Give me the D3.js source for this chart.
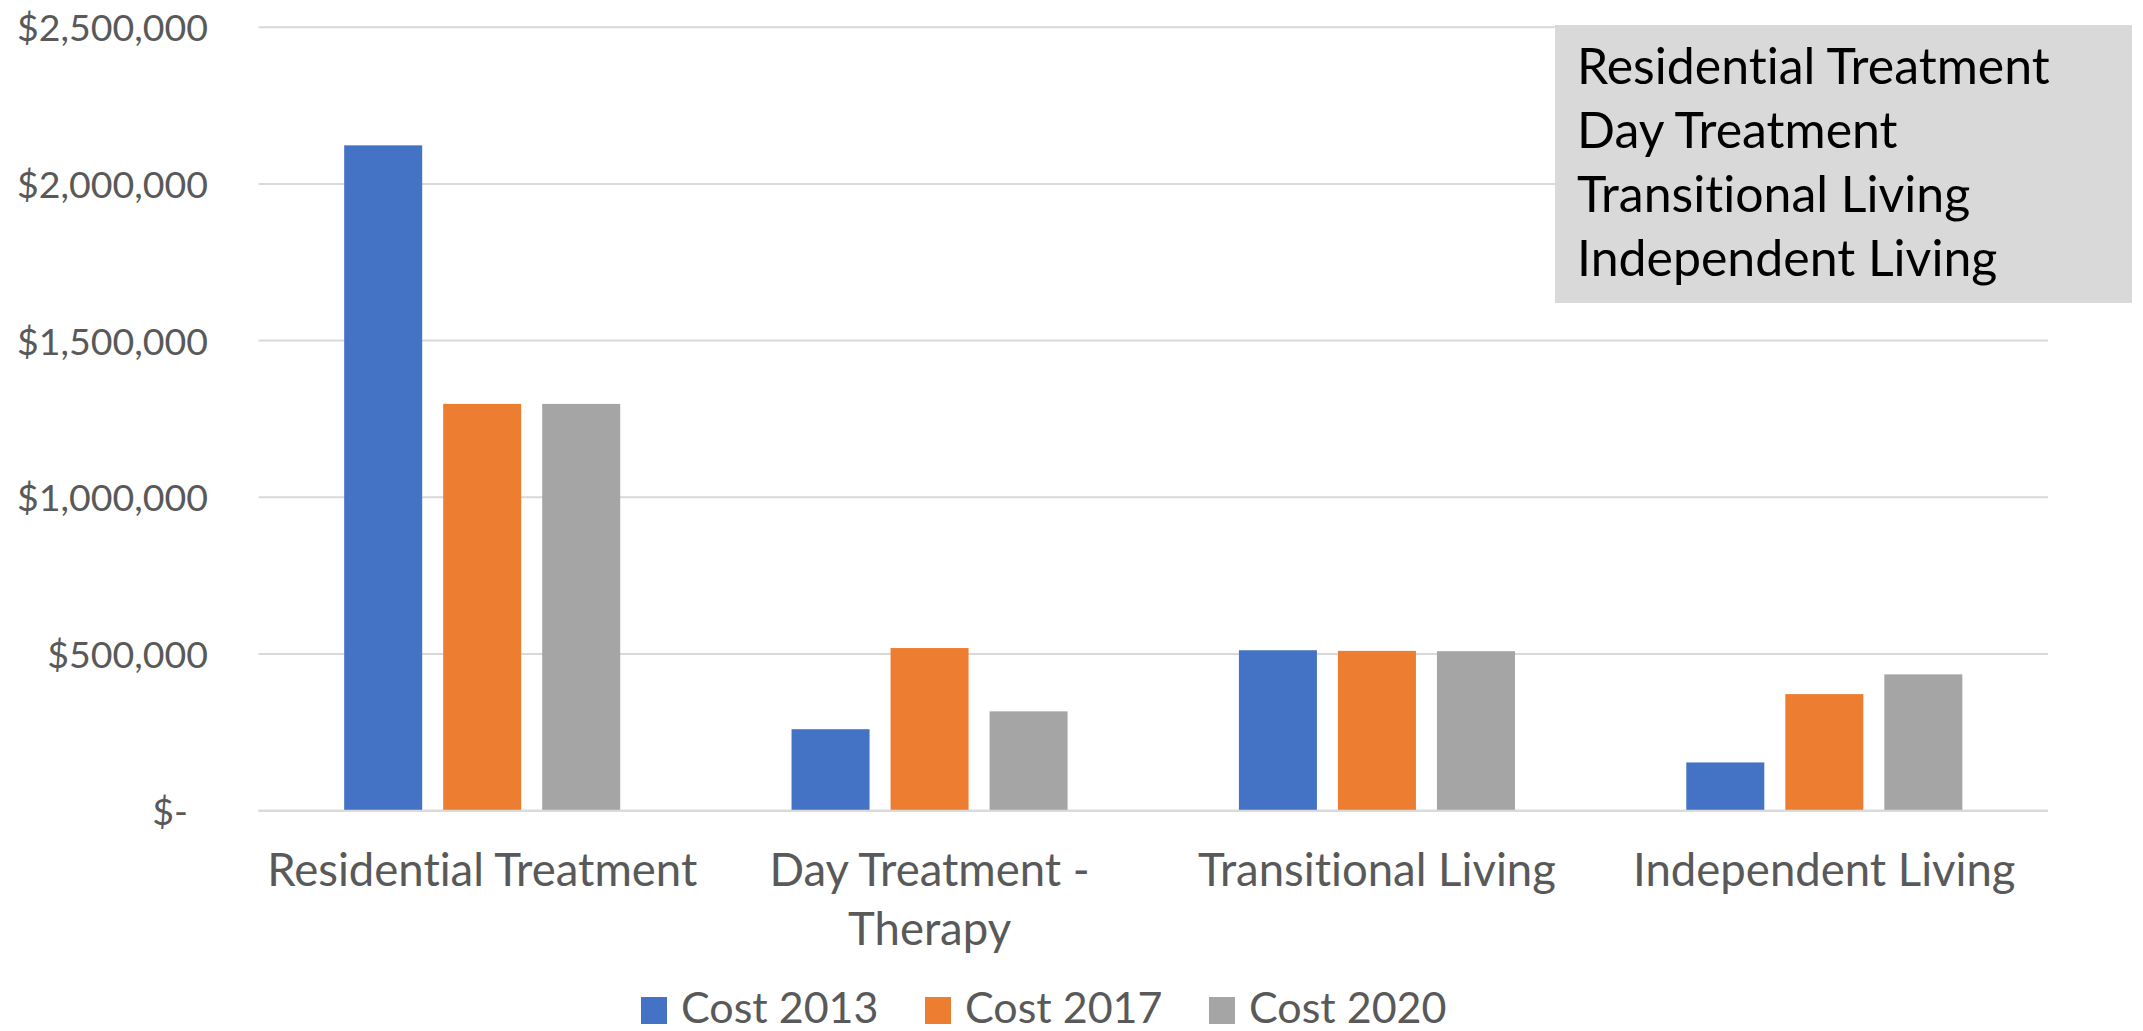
<!DOCTYPE html>
<html>
<head>
<meta charset="utf-8">
<script src="https://cdn.jsdelivr.net/npm/d3@7"></script>
<style>
  html, body { margin: 0; padding: 0; background: #fff; overflow: hidden; }
  svg text { font-family: Lato, Carlito, sans-serif; font-variant-ligatures: none; }
</style>
</head>
<body>
<div id="chart"></div>
<script>
const categories = ['Residential Treatment', 'Day Treatment - Therapy', 'Transitional Living', 'Independent Living']
const seriesNames = ['Cost 2013', 'Cost 2017', 'Cost 2020']
const cost2013 = [2123000, 260000, 512000, 154000]
const cost2017 = [1298000, 519000, 510000, 372000]
const cost2020 = [1298000, 317000, 509000, 435000]
const yTicks = [0, 500000, 1000000, 1500000, 2000000, 2500000]
const boxLines = ['Residential Treatment', 'Day Treatment', 'Transitional Living', 'Independent Living']

const colors = ['#4472c4', '#ed7d31', '#a5a5a5']
const WIDTH = 2143
const HEIGHT = 1031
const PLOT = { left: 258.5, right: 2048, top: 27.2, bottom: 810.7 }

const seriesValues = [cost2013, cost2017, cost2020]
const data = categories.map((c, i) => ({
  category: c,
  series: seriesNames.map((s, j) => ({ name: s, value: seriesValues[j][i] }))
}))

const svg = d3.select('#chart')
  .append('svg')
  .attr('width', WIDTH)
  .attr('height', HEIGHT)

// =================== Scales =================
const x0 = d3.scaleBand()
  .domain(categories)
  .range([PLOT.left, PLOT.right])
  .padding(0)

const groupWidth = x0.bandwidth() * 0.617
const x1 = d3.scaleBand()
  .domain(seriesNames)
  .range([0, groupWidth])
  .paddingInner(21 / 99)

const y = d3.scaleLinear()
  .domain([0, 2500000])
  .range([PLOT.bottom, PLOT.top])

// grid lines
svg.append('g')
  .selectAll('line')
  .data(yTicks)
  .enter()
  .append('line')
  .attr('x1', PLOT.left)
  .attr('x2', PLOT.right)
  .attr('y1', d => y(d))
  .attr('y2', d => y(d))
  .style('stroke', '#d9d9d9')
  .style('stroke-width', 2)

// y axis labels
const yAxis = d3.axisLeft(y)
  .tickValues(yTicks)
  .tickFormat(d => d === 0 ? '$-' : '$' + d3.format(',')(d))
  .tickSize(0)
  .tickPadding(0)

const yAxisG = svg.append('g')
  .attr('transform', 'translate(208,0)')
  .call(yAxis)

yAxisG.select('.domain').remove()
yAxisG.selectAll('text')
  .style('font-family', 'Lato, Carlito, sans-serif')
  .style('font-size', '37.5px')
  .style('fill', '#595959')
  .attr('dy', '0.36em')
  .attr('x', d => d === 0 ? -20 : 0)

// =================== Bars =================
svg.selectAll('g.category')
  .data(data)
  .enter()
  .append('g')
  .classed('category', true)
  .attr('transform', d => `translate(${x0(d.category) + (x0.bandwidth() - groupWidth) / 2},0)`)
  .selectAll('rect')
  .data(d => d.series)
  .enter()
  .append('rect')
  .attr('x', d => x1(d.name))
  .attr('y', d => y(d.value))
  .attr('width', x1.bandwidth())
  .attr('height', d => y(0) - y(d.value))
  .style('fill', (d, i) => colors[i])

// baseline redrawn over bars
svg.append('line')
  .attr('x1', PLOT.left)
  .attr('x2', PLOT.right)
  .attr('y1', y(0))
  .attr('y2', y(0))
  .style('stroke', '#d9d9d9')
  .style('stroke-width', 2)

// =================== Category labels (wrapped) =================
const catLabels = svg.append('g')
  .selectAll('text')
  .data(categories)
  .enter()
  .append('text')
  .attr('x', d => x0(d) + x0.bandwidth() / 2)
  .attr('y', 886)
  .attr('text-anchor', 'middle')
  .style('font-size', '45.5px')
  .style('fill', '#595959')

catLabels.each(function (d) {
  const text = d3.select(this)
  const words = d.split(' ')
  const maxWidth = x0.bandwidth()
  let line = []
  let tspan = text.append('tspan').attr('x', text.attr('x')).attr('dy', 0)
  for (const w of words) {
    line.push(w)
    tspan.text(line.join(' '))
    if (tspan.node().getComputedTextLength() > maxWidth && line.length > 1) {
      line.pop()
      tspan.text(line.join(' '))
      line = [w]
      tspan = text.append('tspan').attr('x', text.attr('x')).attr('dy', 59).text(w)
    }
  }
})

// =================== Legend =================
const legend = svg.append('g')
  .selectAll('g')
  .data(seriesNames)
  .enter()
  .append('g')
  .attr('transform', (d, i) => `translate(${641 + i * 284},997)`)

legend.append('rect')
  .attr('width', 26)
  .attr('height', 27)
  .style('fill', (d, i) => colors[i])

legend.append('text')
  .attr('x', 40)
  .attr('y', 26)
  .text(d => d)
  .style('font-size', '43px')
  .style('fill', '#595959')

// =================== Text box =================
const box = svg.append('g')
box.append('rect')
  .attr('x', 1555)
  .attr('y', 25)
  .attr('width', 577)
  .attr('height', 278)
  .style('fill', '#d9d9d9')

box.selectAll('text')
  .data(boxLines)
  .enter()
  .append('text')
  .attr('x', 1577)
  .attr('y', (d, i) => 83.5 + i * 64)
  .text(d => d)
  .style('font-size', '50px')
  .style('fill', '#000')
</script>
</body>
</html>
